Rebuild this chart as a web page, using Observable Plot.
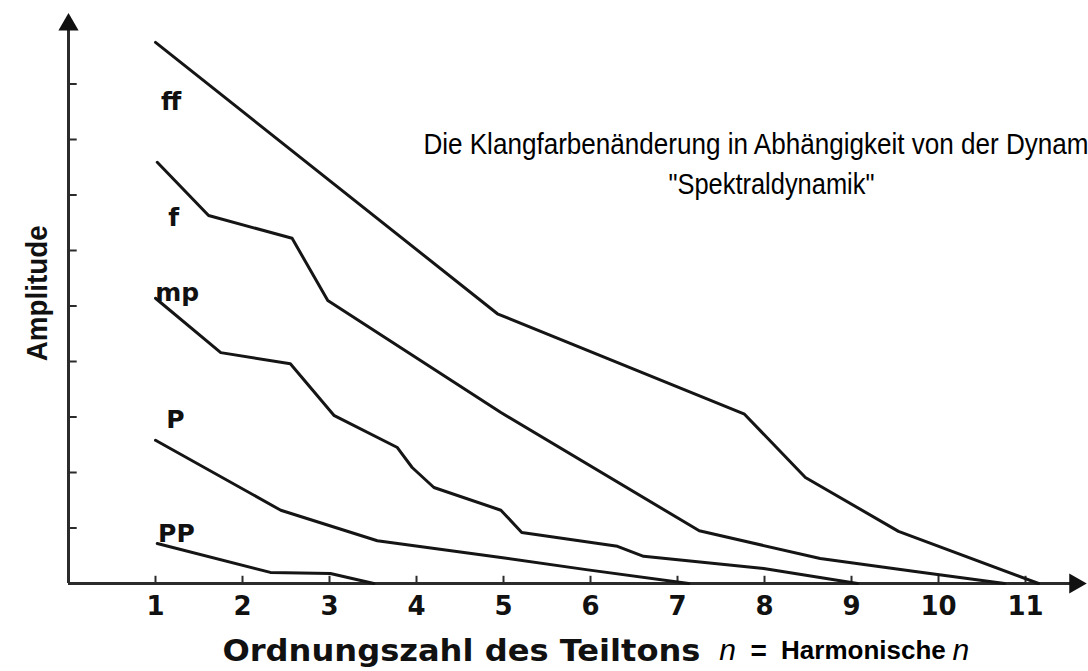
<!DOCTYPE html>
<html>
<head>
<meta charset="utf-8">
<script src="https://cdn.jsdelivr.net/npm/d3@7"></script>
<script src="https://cdn.jsdelivr.net/npm/@observablehq/plot@0.6"></script>
<style>
  html, body { margin: 0; padding: 0; background: #fff; overflow: hidden; }
  #chart svg { display: block; }
</style>
</head>
<body>
<div id="chart"></div>
<script>
// ---- data ----
const xTicks = [1, 2, 3, 4, 5, 6, 7, 8, 9, 10, 11];
const yTicks = [1, 2, 3, 4, 5, 6, 7, 8, 9];

const ffX = [1.0, 4.93, 7.77, 8.47, 9.54, 11.15];
const ffY = [9.75, 4.86, 3.05, 1.91, 0.94, 0];

const fX = [1.02, 1.61, 2.57, 2.98, 4.97, 7.25, 8.64, 9.71, 10.76];
const fY = [7.59, 6.63, 6.22, 5.10, 3.08, 0.95, 0.45, 0.22, 0];

const mpX = [1.0, 1.75, 2.55, 3.05, 3.78, 3.95, 4.20, 4.97, 5.21, 6.31, 6.61, 7.99, 9.07];
const mpY = [5.14, 4.16, 3.96, 3.03, 2.45, 2.09, 1.73, 1.32, 0.92, 0.67, 0.49, 0.27, 0];

const pX = [1.0, 2.44, 3.55, 4.97, 5.95, 7.13];
const pY = [2.58, 1.32, 0.77, 0.47, 0.25, 0];

const ppX = [1.02, 2.32, 3.01, 3.51];
const ppY = [0.72, 0.20, 0.18, 0];

const seriesNames = ["ff", "f", "mp", "P", "PP"];
const labelX = [1.18, 1.21, 1.25, 1.23, 1.24];
const labelY = [8.68, 6.58, 5.24, 2.94, 0.90];

const titleLine1 = "Die Klangfarbenänderung in Abhängigkeit von der Dynamik";
const titleLine2 = "\"Spektraldynamik\"";
const yLabel = "Amplitude";
const xLabel = "Ordnungszahl des Teiltons";
const nSymbol = "n";
const eqSign = "=";
const harmonicWord = "Harmonische";

// ---- tables built from the arrays ----
const allX = [ffX, fX, mpX, pX, ppX];
const allY = [ffY, fY, mpY, pY, ppY];
const lines = [];
seriesNames.forEach((name, i) => {
  allX[i].forEach((x, j) => lines.push({series: name, x, y: allY[i][j]}));
});
const labels = seriesNames.map((name, i) => ({name, x: labelX[i], y: labelY[i]}));

const axisColor = "#2b2b2b";
const boldFont = "'DejaVu Sans', sans-serif";
const arialFont = "'Liberation Sans', Arial, sans-serif";

const chart = Plot.plot({
  width: 1088,
  height: 671,
  marginLeft: 68,
  marginRight: 0,
  marginTop: 28,
  marginBottom: 88,
  x: {domain: [0, 11.724], axis: null},
  y: {domain: [0, 10], axis: null},
  style: {background: "#fff", overflow: "hidden"},
  marks: [
    // axes
    Plot.ruleY([0], {x1: 0, x2: 11.55, stroke: axisColor, strokeWidth: 3}),
    Plot.ruleX([0], {y1: 0, y2: 10.0, stroke: axisColor, strokeWidth: 3}),
    Plot.ruleY(yTicks, {y: d => d, x1: 0, x2: 0.1, stroke: axisColor, strokeWidth: 2}),
    Plot.ruleX(xTicks, {x: d => d, y1: 0, y2: 0.13, stroke: axisColor, strokeWidth: 2}),
    Plot.dot([{x: 0, y: 10.07}], {x: "x", y: "y", symbol: "triangle", r: 7.5, fill: "#111", stroke: "none"}),
    Plot.dot([{x: 11.57, y: 0}], {x: "x", y: "y", symbol: "triangle", r: 7.5, fill: "#111", stroke: "none", rotate: 90}),
    // curves
    Plot.line(lines, {x: "x", y: "y", z: "series", stroke: "#151515", strokeWidth: 3, strokeLinejoin: "round"}),
    // series labels
    Plot.text(labels, {x: "x", y: "y", text: "name", fontFamily: boldFont, fontWeight: "bold", fontSize: 25, fill: "#111", textAnchor: "middle"}),
    // tick labels
    Plot.text(xTicks, {x: d => d, y: -0.41, text: d => String(d), fontFamily: boldFont, fontWeight: "bold", fontSize: 26, fill: "#111"}),
    // axis titles
    Plot.text([yLabel], {x: -0.36, y: 5.23, text: d => d, rotate: -90, fontFamily: arialFont, fontWeight: "bold", fontSize: 30, fill: "#111"}),
    Plot.text([xLabel], {x: 1.77, y: -1.21, text: d => d, textAnchor: "start", fontFamily: boldFont, fontWeight: "bold", fontSize: 31, fill: "#111"}),
    Plot.text([nSymbol], {x: 7.48, y: -1.21, text: d => d, textAnchor: "start", fontFamily: arialFont, fontStyle: "italic", fontSize: 30, fill: "#000"}),
    Plot.text([eqSign], {x: 7.84, y: -1.21, text: d => d, textAnchor: "start", fontFamily: arialFont, fontWeight: "bold", fontSize: 28, fill: "#000"}),
    Plot.text([harmonicWord], {x: 8.19, y: -1.21, text: d => d, textAnchor: "start", fontFamily: arialFont, fontWeight: "bold", fontSize: 26, fill: "#000"}),
    Plot.text([nSymbol], {x: 10.16, y: -1.21, text: d => d, textAnchor: "start", fontFamily: arialFont, fontStyle: "italic", fontSize: 30, fill: "#000"}),
    // title lines
    Plot.text([titleLine1], {x: 8.01, y: 7.91, text: d => d, fontFamily: arialFont, fontSize: 30, fill: "#000"}),
    Plot.text([titleLine2], {x: 8.08, y: 7.19, text: d => d, fontFamily: arialFont, fontSize: 30, fill: "#000"})
  ]
});

document.getElementById("chart").appendChild(chart);

const svg = d3.select(chart);
function squeeze(content, len) {
  svg.selectAll("text").filter(function () { return this.textContent === content; })
    .attr("textLength", len).attr("lengthAdjust", "spacingAndGlyphs");
}
squeeze(titleLine1, 684);
squeeze(titleLine2, 206);
squeeze(xLabel, 478);
squeeze(yLabel, 136);
</script>
</body>
</html>
